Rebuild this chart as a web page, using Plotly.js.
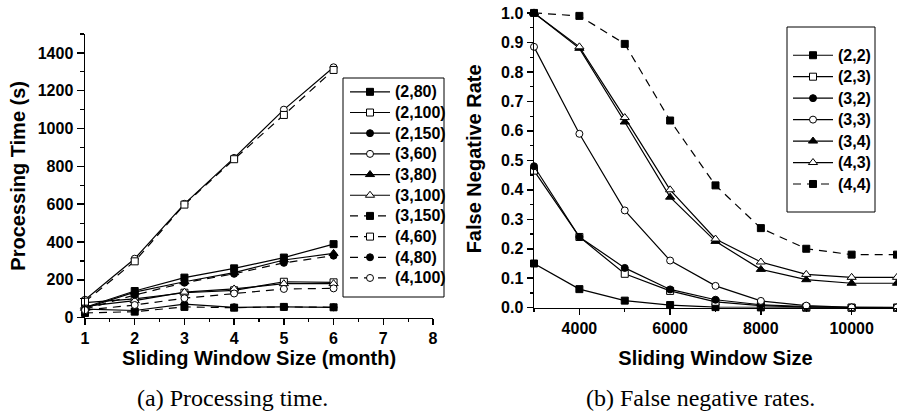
<!DOCTYPE html>
<html><head><meta charset="utf-8">
<script src="https://cdn.plot.ly/plotly-3.0.1.min.js"></script>
<style>html,body{margin:0;padding:0;background:#fff}#chart{width:897px;height:411px}</style>
</head><body><div id="chart"></div>
<script>
// ---------- (a) Processing time ----------
const windowMonths = [1, 2, 3, 4, 5, 6];
const ptLabels = ['(2,80)', '(2,100)', '(2,150)', '(3,60)', '(3,80)', '(3,100)', '(3,150)', '(4,60)', '(4,80)', '(4,100)'];
const pt_2_80  = [55, 141, 212, 261, 318, 389];
const pt_2_100 = [80, 100, 132, 145, 190, 187];
const pt_2_150 = [45, 38, 72, 55, 57, 55];
const pt_3_60  = [95, 312, 602, 845, 1100, 1324];
const pt_3_80  = [50, 135, 190, 238, 305, 340];
const pt_3_100 = [60, 90, 135, 152, 180, 180];
const pt_3_150 = [25, 32, 57, 53, 57, 55];
const pt_4_60  = [85, 298, 598, 838, 1072, 1310];
const pt_4_80  = [45, 120, 185, 232, 290, 328];
const pt_4_100 = [40, 67, 103, 128, 152, 155];
const ptSeries = [pt_2_80, pt_2_100, pt_2_150, pt_3_60, pt_3_80, pt_3_100, pt_3_150, pt_4_60, pt_4_80, pt_4_100];

// ---------- (b) False negative rates ----------
const windowSizes = [3000, 4000, 5000, 6000, 7000, 8000, 9000, 10000, 11000];
const fnLabels = ['(2,2)', '(2,3)', '(3,2)', '(3,3)', '(3,4)', '(4,3)', '(4,4)'];
const fn_2_2 = [0.150, 0.063, 0.024, 0.009, 0.002, 0.001, 0.000, 0.000, 0.000];
const fn_2_3 = [0.465, 0.240, 0.115, 0.057, 0.020, 0.007, 0.002, 0.000, 0.000];
const fn_3_2 = [0.480, 0.240, 0.135, 0.062, 0.027, 0.010, 0.004, 0.000, 0.000];
const fn_3_3 = [0.885, 0.590, 0.330, 0.160, 0.074, 0.023, 0.007, 0.001, 0.001];
const fn_3_4 = [1.000, 0.880, 0.630, 0.375, 0.225, 0.130, 0.095, 0.083, 0.083];
const fn_4_3 = [1.000, 0.885, 0.645, 0.400, 0.233, 0.155, 0.113, 0.103, 0.103];
const fn_4_4 = [1.000, 0.990, 0.895, 0.635, 0.415, 0.270, 0.200, 0.180, 0.180];
const fnSeries = [fn_2_2, fn_2_3, fn_3_2, fn_3_3, fn_3_4, fn_4_3, fn_4_4];

// ---------- styles ----------
const FONT = 'Liberation Sans, Arial, Helvetica, sans-serif';
const SERIF = 'Liberation Serif, Times New Roman, serif';
const DASH = '8px,6px';
const ptStyle = [
  ['square', true, 'solid'], ['square', false, 'solid'], ['circle', true, 'solid'], ['circle', false, 'solid'],
  ['triangle-up', true, 'solid'], ['triangle-up', false, 'solid'], ['square', true, DASH], ['square', false, DASH],
  ['circle', true, DASH], ['circle', false, DASH]
];
const fnStyle = [
  ['square', true, 'solid'], ['square', false, 'solid'], ['circle', true, 'solid'], ['circle', false, 'solid'],
  ['triangle-up', true, 'solid'], ['triangle-up', false, 'solid'], ['square', true, DASH]
];
function mk(sym, filled) {
  const size = sym === 'triangle-up' ? 8 : 7;
  return {symbol: sym, size: size, color: filled ? '#000' : '#fff', line: {color: '#000', width: 1}};
}
const big = t => '<span style="font-size:16px">' + t + '</span>';

const traces = [];
ptSeries.forEach((ys, i) => {
  const s = ptStyle[i];
  traces.push({
    type: 'scatter', mode: 'lines+markers', x: windowMonths, y: ys, name: big(ptLabels[i]),
    xaxis: 'x', yaxis: 'y', legend: 'legend', cliponaxis: false,
    line: {color: '#000', width: 1.2, dash: s[2]}, marker: mk(s[0], s[1])
  });
});
fnSeries.forEach((ys, i) => {
  const s = fnStyle[i];
  traces.push({
    type: 'scatter', mode: 'lines+markers', x: windowSizes, y: ys, name: big(fnLabels[i]),
    xaxis: 'x2', yaxis: 'y2', legend: 'legend2', cliponaxis: false,
    line: {color: '#000', width: 1.2, dash: s[2]}, marker: mk(s[0], s[1])
  });
});

const W = 897, H = 411;
const px = v => v / W, py = v => 1 - v / H;

const axisCommon = {
  showline: true, linecolor: '#000', linewidth: 1.5, mirror: false,
  showgrid: false, zeroline: false, ticks: 'outside', tickcolor: '#000', tickwidth: 1.5,
  tickfont: {family: FONT, size: 16, color: '#000', weight: 'bold'}
};
const titleFont = {family: FONT, size: 20, color: '#000', weight: 'bold'};

const layout = {
  width: W, height: H, margin: {l: 0, r: 0, t: 0, b: 0},
  paper_bgcolor: '#fff', plot_bgcolor: '#fff', showlegend: true,
  font: {family: FONT, color: '#000'},
  xaxis: Object.assign({}, axisCommon, {
    domain: [px(85), px(433)], range: [1, 8], dtick: 1, ticklen: 6,
    minor: {dtick: 0.5, ticklen: 3, ticks: 'outside', tickcolor: '#000', tickwidth: 1.2},
    anchor: 'y',
    title: {text: 'Sliding Window Size (month)', standoff: 2, font: titleFont}
  }),
  yaxis: Object.assign({}, axisCommon, {
    domain: [py(317.7), py(34)], range: [0, 1500], tickvals: [0, 200, 400, 600, 800, 1000, 1200, 1400], ticklen: 7,
    minor: {dtick: 100, ticklen: 4, ticks: 'outside', tickcolor: '#000', tickwidth: 1.2},
    anchor: 'x',
    title: {text: 'Processing Time (s)', standoff: 6, font: titleFont}
  }),
  xaxis2: Object.assign({}, axisCommon, {
    domain: [px(534), 1], range: [3000, 11000], tickvals: [4000, 6000, 8000, 10000], tickformat: 'd', ticklen: 6,
    minor: {dtick: 1000, ticklen: 3, ticks: 'outside', tickcolor: '#000', tickwidth: 1.2},
    anchor: 'y2',
    title: {text: 'Sliding Window Size', standoff: 14, font: titleFont}
  }),
  yaxis2: Object.assign({}, axisCommon, {
    domain: [py(307.7), py(10)], range: [0, 1.01], tickvals: [0, 0.1, 0.2, 0.3, 0.4, 0.5, 0.6, 0.7, 0.8, 0.9, 1.0],
    tickformat: '.1f', ticklen: 6,
    minor: {dtick: 0.05, ticklen: 3, ticks: 'outside', tickcolor: '#000', tickwidth: 1.2},
    anchor: 'x2',
    title: {text: 'False Negative Rate', standoff: 14, font: titleFont}
  }),
  legend: {
    x: px(345), y: py(76.5), xanchor: 'left', yanchor: 'top', bgcolor: 'rgba(0,0,0,0)', borderwidth: 0,
    font: {family: FONT, size: 13.6, color: '#000', weight: 'bold'}, itemwidth: 40, tracegroupgap: 0
  },
  legend2: {
    x: px(788), y: py(39.5), xanchor: 'left', yanchor: 'top', bgcolor: 'rgba(0,0,0,0)', borderwidth: 0,
    font: {family: FONT, size: 14.2, color: '#000', weight: 'bold'}, itemwidth: 40, tracegroupgap: 0
  },
  shapes: [
    {type: 'rect', xref: 'paper', yref: 'paper', x0: px(343), x1: px(444), y0: py(297), y1: py(78), line: {color: '#000', width: 1}},
    {type: 'rect', xref: 'paper', yref: 'paper', x0: px(787), x1: px(875), y0: py(212), y1: py(27), line: {color: '#000', width: 1}}
  ],
  annotations: [
    {text: '(a) Processing time.', xref: 'paper', yref: 'paper', x: px(233), y: py(398), xanchor: 'center', yanchor: 'middle', showarrow: false,
     font: {family: SERIF, size: 24, color: '#000'}},
    {text: '(b) False negative rates.', xref: 'paper', yref: 'paper', x: px(700), y: py(398), xanchor: 'center', yanchor: 'middle', showarrow: false,
     font: {family: SERIF, size: 24, color: '#000'}}
  ]
};

Plotly.newPlot('chart', traces, layout, {displayModeBar: false, staticPlot: true});
</script>
</body></html>
